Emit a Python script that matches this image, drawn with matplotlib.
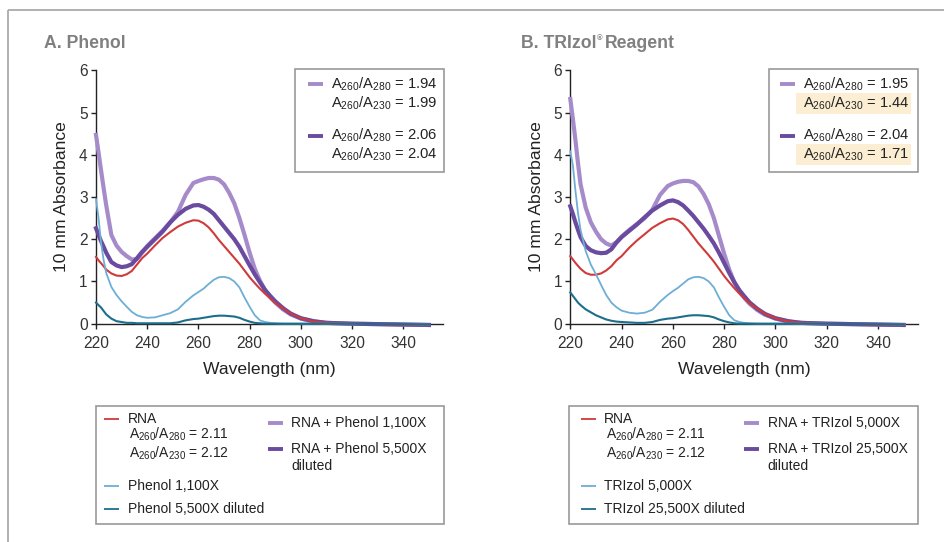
import matplotlib
matplotlib.use("Agg")
import matplotlib.pyplot as plt
from matplotlib.patches import Rectangle

plt.rcParams['font.family'] = ['Liberation Sans', 'DejaVu Sans']
plt.rcParams['mathtext.fontset'] = 'custom'
plt.rcParams['mathtext.rm'] = 'Liberation Sans'
plt.rcParams['mathtext.it'] = 'Liberation Sans:italic'
plt.rcParams['mathtext.bf'] = 'Liberation Sans:bold'

# ---------------- data ----------------
wavelength = [220, 221, 222, 223, 224, 226, 228, 230, 232, 234, 236, 238, 240, 243, 246, 249,
              252, 255, 258, 260, 262, 264, 266, 268, 270, 272, 274, 276, 278, 280, 282, 284,
              286, 288, 290, 293, 296, 300, 305, 310, 320, 330, 340, 350]

# Panel A: Phenol
a_rna = [1.58, 1.50, 1.43, 1.36, 1.28, 1.19, 1.14, 1.13, 1.17, 1.25, 1.40, 1.55, 1.66, 1.85, 2.03, 2.17,
         2.30, 2.39, 2.45, 2.44, 2.38, 2.28, 2.14, 1.98, 1.84, 1.70, 1.56, 1.42, 1.26, 1.10, 0.96, 0.83,
         0.71, 0.60, 0.49, 0.36, 0.24, 0.13, 0.05, 0.02, 0.00, -0.01, -0.02, -0.03]
a_rna_low = [4.47, 4.05, 3.62, 3.20, 2.80, 2.10, 1.85, 1.70, 1.60, 1.52, 1.53, 1.68, 1.84, 2.02, 2.20, 2.40,
             2.65, 3.05, 3.33, 3.38, 3.42, 3.45, 3.45, 3.41, 3.30, 3.10, 2.85, 2.50, 2.10, 1.68, 1.30, 1.02,
             0.80, 0.63, 0.50, 0.34, 0.22, 0.12, 0.05, 0.02, 0.00, -0.01, -0.02, -0.03]
a_rna_high = [2.26, 2.10, 1.95, 1.82, 1.68, 1.46, 1.38, 1.34, 1.36, 1.41, 1.55, 1.70, 1.82, 2.00, 2.18, 2.40,
              2.58, 2.72, 2.80, 2.81, 2.77, 2.70, 2.60, 2.45, 2.30, 2.15, 2.00, 1.82, 1.60, 1.38, 1.17, 0.98,
              0.80, 0.66, 0.53, 0.37, 0.24, 0.13, 0.06, 0.02, 0.00, -0.01, -0.02, -0.03]
a_cont_low = [2.95, 2.50, 1.90, 1.50, 1.20, 0.87, 0.68, 0.53, 0.40, 0.28, 0.20, 0.16, 0.14, 0.15, 0.20, 0.25,
              0.34, 0.52, 0.67, 0.75, 0.83, 0.94, 1.04, 1.10, 1.11, 1.08, 1.00, 0.86, 0.62, 0.40, 0.20, 0.08,
              0.04, 0.02, 0.01, 0.00, 0.00, 0.00, 0.00, 0.00, 0.00, -0.01, -0.01, -0.02]
a_cont_high = [0.50, 0.44, 0.38, 0.30, 0.22, 0.12, 0.06, 0.04, 0.02, 0.02, 0.01, 0.01, 0.01, 0.01, 0.01, 0.01,
               0.03, 0.08, 0.11, 0.12, 0.14, 0.16, 0.18, 0.19, 0.19, 0.18, 0.17, 0.14, 0.09, 0.05, 0.02, 0.01,
               0.00, 0.00, 0.00, 0.00, 0.00, 0.00, 0.00, 0.00, 0.00, -0.01, -0.01, -0.02]

# Panel B: TRIzol
b_rna = [1.60, 1.52, 1.44, 1.37, 1.30, 1.20, 1.16, 1.16, 1.19, 1.26, 1.36, 1.50, 1.60, 1.80, 1.97, 2.12,
         2.27, 2.38, 2.47, 2.49, 2.45, 2.36, 2.22, 2.06, 1.90, 1.76, 1.62, 1.47, 1.30, 1.13, 0.98, 0.84,
         0.71, 0.59, 0.48, 0.35, 0.23, 0.13, 0.05, 0.02, 0.00, -0.01, -0.02, -0.03]
b_rna_low = [5.32, 4.85, 4.35, 3.80, 3.30, 2.75, 2.40, 2.18, 2.00, 1.90, 1.85, 1.93, 2.06, 2.22, 2.36, 2.50,
             2.70, 3.05, 3.26, 3.32, 3.36, 3.38, 3.38, 3.35, 3.25, 3.07, 2.83, 2.50, 2.08, 1.66, 1.28, 0.98,
             0.76, 0.60, 0.47, 0.32, 0.21, 0.12, 0.05, 0.02, 0.00, -0.01, -0.02, -0.03]
b_rna_high = [2.78, 2.60, 2.40, 2.22, 2.05, 1.84, 1.74, 1.69, 1.67, 1.68, 1.76, 1.92, 2.05, 2.20, 2.35, 2.52,
              2.68, 2.80, 2.90, 2.92, 2.88, 2.80, 2.68, 2.55, 2.40, 2.25, 2.08, 1.90, 1.68, 1.44, 1.20, 0.98,
              0.79, 0.64, 0.50, 0.35, 0.23, 0.13, 0.06, 0.02, 0.00, -0.01, -0.02, -0.03]
b_cont_low = [4.08, 3.75, 3.15, 2.62, 2.22, 1.72, 1.40, 1.17, 0.92, 0.68, 0.50, 0.39, 0.31, 0.26, 0.24, 0.26,
              0.33, 0.52, 0.68, 0.77, 0.85, 0.95, 1.05, 1.10, 1.11, 1.08, 1.00, 0.86, 0.62, 0.40, 0.20, 0.08,
              0.04, 0.02, 0.01, 0.00, 0.00, 0.00, 0.00, 0.00, 0.00, -0.01, -0.01, -0.02]
b_cont_high = [0.74, 0.66, 0.58, 0.50, 0.44, 0.34, 0.27, 0.20, 0.15, 0.10, 0.07, 0.05, 0.04, 0.03, 0.02, 0.02,
               0.04, 0.09, 0.12, 0.13, 0.15, 0.17, 0.19, 0.20, 0.20, 0.19, 0.18, 0.15, 0.10, 0.06, 0.03, 0.01,
               0.00, 0.00, 0.00, 0.00, 0.00, 0.00, 0.00, 0.00, 0.00, -0.01, -0.01, -0.02]

x_ticks = [220, 240, 260, 280, 300, 320, 340]
y_ticks = [0, 1, 2, 3, 4, 5, 6]

panel_titles = ["A. Phenol", "B. TRIzol"]
ratios_a = [("1.94", "1.99"), ("2.06", "2.04")]
ratios_b = [("1.95", "1.44"), ("2.04", "1.71")]
rna_ratios = ("2.11", "2.12")
labels_a = ["Phenol 1,100X", "Phenol 5,500X diluted", "RNA + Phenol 1,100X", "RNA + Phenol 5,500X"]
labels_b = ["TRIzol 5,000X", "TRIzol 25,500X diluted", "RNA + TRIzol 5,000X", "RNA + TRIzol 25,500X"]

# ---------------- style ----------------
C_RED = '#cf3a3a'
C_LPUR = '#a68bcb'
C_DPUR = '#6a4b9f'
C_LBLUE = '#6eaed6'
C_TEAL = '#1c6e8c'
C_HL = '#fbeed3'
C_TXT = '#222222'

W, H = 945, 542
fig = plt.figure(figsize=(W / 100, H / 100), dpi=100)

def ax_rect(x0, x1, y_top, y_bot):
    return [x0 / W, 1 - y_bot / H, (x1 - x0) / W, (y_bot - y_top) / H]

panels = [
    dict(rect=ax_rect(96, 443, 70.3, 323.7), data=(a_rna, a_rna_low, a_rna_high, a_cont_low, a_cont_high)),
    dict(rect=ax_rect(570.3, 917.7, 70.3, 323.7), data=(b_rna, b_rna_low, b_rna_high, b_cont_low, b_cont_high)),
]

for p in panels:
    ax = fig.add_axes(p['rect'])
    rna, rlow, rhigh, clow, chigh = p['data']
    ax.plot(wavelength, rlow, color=C_LPUR, lw=3.0, clip_on=False, zorder=3)
    ax.plot(wavelength, rhigh, color=C_DPUR, lw=3.0, clip_on=False, zorder=4)
    ax.plot(wavelength, rna, color=C_RED, lw=1.5, clip_on=False, zorder=5)
    ax.plot(wavelength, clow, color=C_LBLUE, lw=1.3, clip_on=False, zorder=6)
    ax.plot(wavelength, chigh, color=C_TEAL, lw=1.5, clip_on=False, zorder=7)
    ax.set_xlim(220, 355.5)
    ax.set_ylim(0, 6)
    ax.set_xticks(x_ticks)
    ax.set_yticks(y_ticks)
    for s in ['top', 'right']:
        ax.spines[s].set_visible(False)
    for s in ['left', 'bottom']:
        ax.spines[s].set_linewidth(1.0)
        ax.spines[s].set_color('#222222')
        ax.spines[s].set_zorder(2)
    ax.tick_params(axis='both', direction='out', length=3.5, width=1.0, color='#222222',
                   labelsize=11.2, labelcolor='#333333')
    ax.tick_params(axis='x', pad=5)
    ax.tick_params(axis='y', pad=2.5)
    ax.set_xlabel("Wavelength (nm)", fontsize=12.6, color=C_TXT, labelpad=8)
    ax.set_ylabel("10 mm Absorbance", fontsize=12.6, color=C_TXT, labelpad=7)
    ax.patch.set_alpha(0)

# ---------------- overlay in pixel coordinates ----------------
ov = fig.add_axes([0, 0, 1, 1], zorder=10)
ov.set_xlim(0, W)
ov.set_ylim(H, 0)
ov.axis('off')
ov.patch.set_alpha(0)

# outer frame
ov.plot([8, 8], [10, H], color='#aaaaaa', lw=1.3, solid_capstyle='butt')
ov.plot([8, W], [10, 10], color='#aaaaaa', lw=1.3, solid_capstyle='butt')

# titles
TITLE_KW = dict(fontsize=12.7, fontweight='bold', color='#808080', va='center', ha='left')
ov.text(44, 43, panel_titles[0], **TITLE_KW)
ov.text(520.7, 43, panel_titles[1], **TITLE_KW)
ov.text(597.3, 38.5, "®", fontsize=5.5, fontweight='bold', color='#808080', va='center', ha='left')
ov.text(604.8, 43, "Reagent", **TITLE_KW)

def ratio(a, b, v):
    return r"A$_{%s}$/A$_{%s}$ = %s" % (a, b, v)

LEG_FS = 10.0

def box(x0, y0, x1, y1):
    ov.add_patch(Rectangle((x0, y0), x1 - x0, y1 - y0, fill=False, ec='#999999', lw=1.2))

def swatch(x0, x1, y, color, lw):
    ov.plot([x0, x1], [y, y], color=color, lw=lw, solid_capstyle='butt')

def txt(x, y, s, fs=LEG_FS):
    ov.text(x, y, s, fontsize=fs, color=C_TXT, va='center', ha='left')

# top legends
for (bx0, bx1, sx0, tx, ratios, hl) in [(295.3, 444, 308, 331, ratios_a, False),
                                        (769.3, 918.3, 780, 803.3, ratios_b, True)]:
    box(bx0, 69.3, bx1, 172)
    for i, (r280, r230) in enumerate(ratios):
        y1 = 84.3 + i * 51.4
        y2 = 103.3 + i * 51.0
        if hl:
            ov.add_patch(Rectangle((tx - 7.3, y2 - 10.3), 114.7, 20.7, fc=C_HL, ec='none', zorder=0))
        swatch(sx0, sx0 + 15, y1, C_LPUR if i == 0 else C_DPUR, 2.8)
        txt(tx, y1, ratio('260', '280', r280), fs=10.6)
        txt(tx, y2, ratio('260', '230', r230), fs=10.6)

# bottom legends
for (bx0, bx1, sx0, tx, rsx0, rtx, labels) in [(96, 444, 104, 127.7, 268.3, 291, labels_a),
                                                (569.3, 917.7, 581, 604.3, 744, 767.7, labels_b)]:
    box(bx0, 405.7, bx1, 524)
    swatch(sx0, sx0 + 15, 419.3, C_RED, 1.3)
    txt(tx, 419.3, "RNA")
    txt(tx + 1.6, 434.5, ratio('260', '280', rna_ratios[0]))
    txt(tx + 1.6, 453.3, ratio('260', '230', rna_ratios[1]))
    swatch(sx0, sx0 + 15, 486, C_LBLUE, 1.3)
    txt(tx, 486, labels[0])
    swatch(sx0, sx0 + 15, 508.7, C_TEAL, 1.3)
    txt(tx, 508.7, labels[1])
    swatch(rsx0, rsx0 + 15, 422.7, C_LPUR, 2.8)
    txt(rtx, 422.7, labels[2])
    swatch(rsx0, rsx0 + 15, 449, C_DPUR, 2.8)
    txt(rtx, 449, labels[3])
    txt(rtx, 466, "diluted")

fig.savefig("out.png", dpi=100)
